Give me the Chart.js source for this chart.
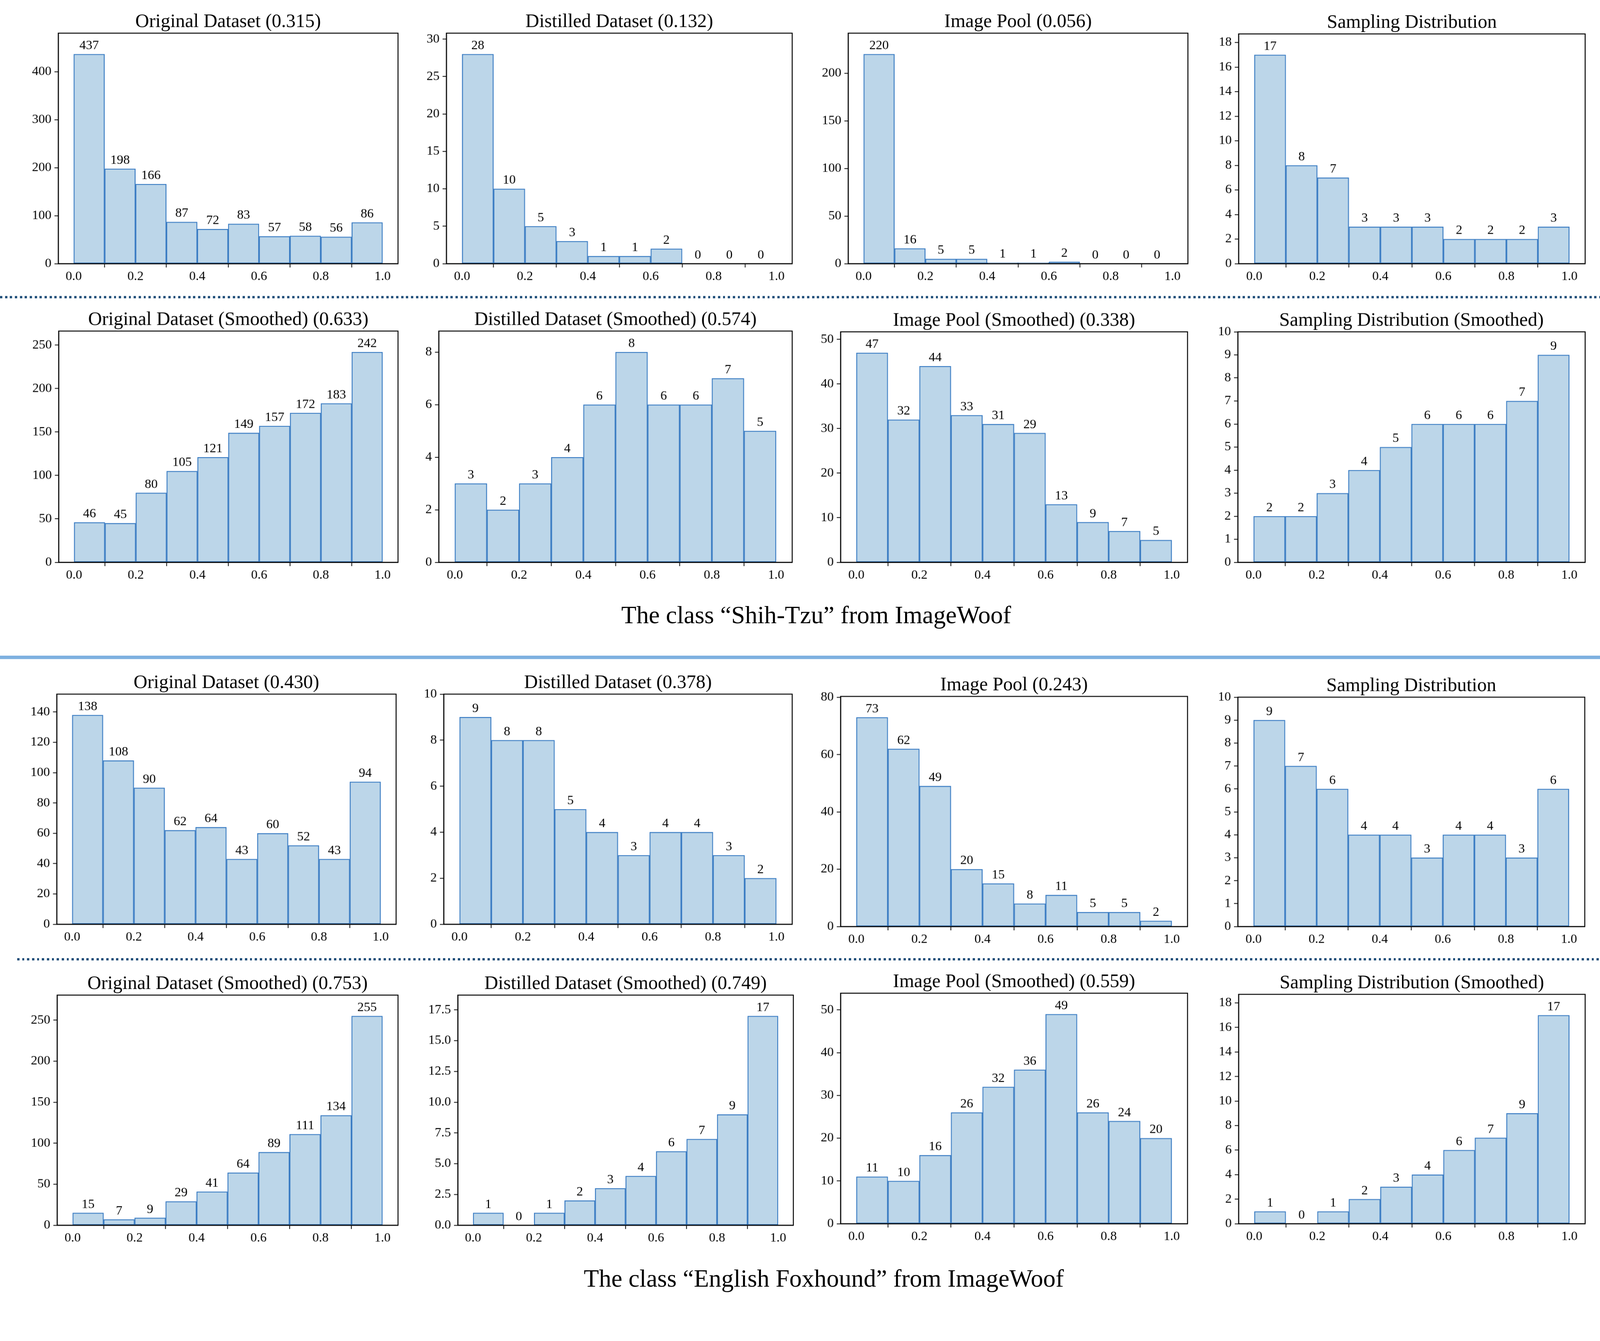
<!DOCTYPE html>
<html>
<head>
<meta charset="utf-8">
<script src="https://cdn.jsdelivr.net/npm/chart.js@4.4.1/dist/chart.umd.min.js"></script>
<style>
    html, body { margin: 0; padding: 0; background: #fff; overflow: hidden; }
    #page { position: relative; width: 4201px; height: 3432px; overflow: hidden; background: #fff;
            transform-origin: 0 0;
            font-family: 'Liberation Serif', 'Times New Roman', serif; }
    #page canvas { position: absolute; }
    .dots { position: absolute; height: 6px;
            background: repeating-linear-gradient(to right, #1f4e79 0 6px, transparent 6px 13px); }
    .rule { position: absolute; left: 0; width: 4201px; height: 9px; background: #7eb0e0; }
    .caption { position: absolute; width: 2000px; text-align: center; font-size: 65px; line-height: 1; color: #000; }
</style>
</head>
<body>
<div id="page">
    <div class="dots" style="left:0; top:777px; width:4201px;"></div>
    <div class="caption" style="left:1143px; top:1582px;">The class “Shih-Tzu” from ImageWoof</div>
    <div class="rule" style="top:1721px;"></div>
    <div class="dots" style="left:45px; top:2515px; width:4156px;"></div>
    <div class="caption" style="left:1163px; top:3323px;">The class “English Foxhound” from ImageWoof</div>
</div>

<script>
// histogram bins: 10 bins of width 0.1 on [0, 1]
const binCenters = [0.05, 0.15, 0.25, 0.35, 0.45, 0.55, 0.65, 0.75, 0.85, 0.95];
const xTickLabels = ['0.0', '0.2', '0.4', '0.6', '0.8', '1.0'];

// Shih-Tzu
const shihOriginal = [437, 198, 166, 87, 72, 83, 57, 58, 56, 86];
const shihDistilled = [28, 10, 5, 3, 1, 1, 2, 0, 0, 0];
const shihPool = [220, 16, 5, 5, 1, 1, 2, 0, 0, 0];
const shihSampling = [17, 8, 7, 3, 3, 3, 2, 2, 2, 3];
const shihOriginalSmooth = [46, 45, 80, 105, 121, 149, 157, 172, 183, 242];
const shihDistilledSmooth = [3, 2, 3, 4, 6, 8, 6, 6, 7, 5];
const shihPoolSmooth = [47, 32, 44, 33, 31, 29, 13, 9, 7, 5];
const shihSamplingSmooth = [2, 2, 3, 4, 5, 6, 6, 6, 7, 9];

// English Foxhound
const foxOriginal = [138, 108, 90, 62, 64, 43, 60, 52, 43, 94];
const foxDistilled = [9, 8, 8, 5, 4, 3, 4, 4, 3, 2];
const foxPool = [73, 62, 49, 20, 15, 8, 11, 5, 5, 2];
const foxSampling = [9, 7, 6, 4, 4, 3, 4, 4, 3, 6];
const foxOriginalSmooth = [15, 7, 9, 29, 41, 64, 89, 111, 134, 255];
const foxDistilledSmooth = [1, 0, 1, 2, 3, 4, 6, 7, 9, 17];
const foxPoolSmooth = [11, 10, 16, 26, 32, 36, 49, 26, 24, 20];
const foxSamplingSmooth = [1, 0, 1, 2, 3, 4, 6, 7, 9, 17];

// y tick labels
const ticks0to400 = ['0', '100', '200', '300', '400'];
const ticks0to30 = ['0', '5', '10', '15', '20', '25', '30'];
const ticks0to200 = ['0', '50', '100', '150', '200'];
const ticks0to250 = ['0', '50', '100', '150', '200', '250'];
const ticksEven18 = ['0', '2', '4', '6', '8', '10', '12', '14', '16', '18'];
const ticksEven8 = ['0', '2', '4', '6', '8'];
const ticksEven10 = ['0', '2', '4', '6', '8', '10'];
const ticks0to10 = ['0', '1', '2', '3', '4', '5', '6', '7', '8', '9', '10'];
const ticks0to50 = ['0', '10', '20', '30', '40', '50'];
const ticks0to140 = ['0', '20', '40', '60', '80', '100', '120', '140'];
const ticks0to80 = ['0', '20', '40', '60', '80'];
const ticksHalf175 = ['0.0', '2.5', '5.0', '7.5', '10.0', '12.5', '15.0', '17.5'];

const FILL = '#bcd6e9';
const EDGE = '#3a7cc3';
const FONT = "'Liberation Serif', 'Times New Roman', serif";

// panel boxes: plot area [left, top, right, bottom] in page pixels
const panels = [
    { title: 'Original Dataset (0.315)', counts: shihOriginal, yTicks: ticks0to400, box: [153, 87, 1045, 692] },
    { title: 'Distilled Dataset (0.132)', counts: shihDistilled, yTicks: ticks0to30, box: [1172, 87, 2080, 692] },
    { title: 'Image Pool (0.056)', counts: shihPool, yTicks: ticks0to200, box: [2227, 87, 3119, 692] },
    { title: 'Sampling Distribution', counts: shihSampling, yTicks: ticksEven18, box: [3252, 89, 4162, 692] },

    { title: 'Original Dataset (Smoothed) (0.633)', counts: shihOriginalSmooth, yTicks: ticks0to250, box: [154, 869, 1045, 1476] },
    { title: 'Distilled Dataset (Smoothed) (0.574)', counts: shihDistilledSmooth, yTicks: ticksEven8, box: [1152, 869, 2080, 1476] },
    { title: 'Image Pool (Smoothed) (0.338)', counts: shihPoolSmooth, yTicks: ticks0to50, box: [2207, 871, 3118, 1476] },
    { title: 'Sampling Distribution (Smoothed)', counts: shihSamplingSmooth, yTicks: ticks0to10, box: [3250, 871, 4162, 1476] },

    { title: 'Original Dataset (0.430)', counts: foxOriginal, yTicks: ticks0to140, box: [149, 1822, 1040, 2426] },
    { title: 'Distilled Dataset (0.378)', counts: foxDistilled, yTicks: ticksEven10, box: [1165, 1822, 2080, 2426] },
    { title: 'Image Pool (0.243)', counts: foxPool, yTicks: ticks0to80, box: [2207, 1828, 3118, 2432] },
    { title: 'Sampling Distribution', counts: foxSampling, yTicks: ticks0to10, box: [3250, 1830, 4161, 2432] },

    { title: 'Original Dataset (Smoothed) (0.753)', counts: foxOriginalSmooth, yTicks: ticks0to250, box: [150, 2612, 1045, 3216] },
    { title: 'Distilled Dataset (Smoothed) (0.749)', counts: foxDistilledSmooth, yTicks: ticksHalf175, box: [1202, 2612, 2083, 3216] },
    { title: 'Image Pool (Smoothed) (0.559)', counts: foxPoolSmooth, yTicks: ticks0to50, box: [2207, 2607, 3118, 3212] },
    { title: 'Sampling Distribution (Smoothed)', counts: foxSamplingSmooth, yTicks: ticksEven18, box: [3252, 2610, 4162, 3212] }
];

// black box around the plot area, like matplotlib spines
const framePlugin = {
    id: 'frame',
    afterDatasetsDraw(chart) {
        const { ctx, chartArea: a } = chart;
        ctx.save();
        ctx.strokeStyle = '#000';
        ctx.lineWidth = 2.5;
        ctx.strokeRect(a.left, a.top, a.right - a.left, a.bottom - a.top);
        ctx.restore();
    }
};

// count written above each bar
const countLabels = {
    id: 'countLabels',
    afterDraw(chart) {
        const { ctx } = chart;
        const meta = chart.getDatasetMeta(0);
        const values = chart.data.datasets[0].data;
        ctx.save();
        ctx.font = `34px ${FONT}`;
        ctx.fillStyle = '#000';
        ctx.textAlign = 'center';
        ctx.textBaseline = 'bottom';
        meta.data.forEach((bar, i) => {
            ctx.fillText(String(values[i].y), bar.x, bar.y - 5);
        });
        ctx.restore();
    }
};

const page = document.getElementById('page');
// fit the 4201x3432 layout into whatever CSS viewport the window gives
const fit = Math.min(window.innerWidth / 4201, window.innerHeight / 3432) || 1;
page.style.transform = `scale(${fit})`;

const YW = 130, TH = 64, XH = 64, PR = 12;

panels.forEach((p) => {
    const [l, t, r, b] = p.box;
    const w = YW + (r - l) + PR;
    const h = TH + (b - t) + XH;
    const canvas = document.createElement('canvas');
    canvas.width = w;
    canvas.height = h;
    canvas.style.left = (l - YW) + 'px';
    canvas.style.top = (t - TH) + 'px';
    canvas.style.width = w + 'px';
    canvas.style.height = h + 'px';
    page.appendChild(canvas);

    const yValues = p.yTicks.map(Number);
    const yMax = Math.max(Math.max(...p.counts) * 1.1, yValues[yValues.length - 1]);

    new Chart(canvas, {
        type: 'bar',
        data: {
            datasets: [{
                data: binCenters.map((x, i) => ({ x: x, y: p.counts[i] })),
                backgroundColor: FILL,
                borderColor: EDGE,
                borderWidth: 2.5,
                borderSkipped: false,
                barPercentage: 1,
                categoryPercentage: 1
            }]
        },
        options: {
            responsive: false,
            devicePixelRatio: 1,
            animation: false,
            layout: { padding: { left: 0, right: PR, top: 0, bottom: 0 } },
            plugins: {
                legend: { display: false },
                tooltip: { enabled: false },
                title: {
                    display: true,
                    fullSize: false,
                    text: p.title,
                    color: '#000',
                    font: { family: FONT, size: 50, weight: 'normal', lineHeight: 1 },
                    padding: { top: 10, bottom: 4 }
                }
            },
            scales: {
                x: {
                    type: 'linear',
                    min: -0.05,
                    max: 1.05,
                    offset: false,
                    afterBuildTicks: (axis) => {
                        axis.ticks = xTickLabels.map((s) => ({ value: Number(s) }));
                    },
                    afterFit: (axis) => { axis.height = XH; },
                    ticks: {
                        autoSkip: false,
                        maxRotation: 0,
                        padding: 4,
                        color: '#000',
                        font: { family: FONT, size: 34 },
                        callback: (v) => Number(v).toFixed(1)
                    },
                    grid: { display: true, drawOnChartArea: false, drawTicks: true, tickLength: 10, tickWidth: 2, color: '#000' },
                    border: { display: true, color: '#000', width: 2.5 }
                },
                y: {
                    type: 'linear',
                    min: 0,
                    max: yMax,
                    afterBuildTicks: (axis) => {
                        axis.ticks = yValues.map((v) => ({ value: v }));
                    },
                    afterFit: (axis) => { axis.width = YW; },
                    ticks: {
                        autoSkip: false,
                        padding: 8,
                        color: '#000',
                        font: { family: FONT, size: 34 },
                        callback: (v) => p.yTicks[yValues.indexOf(Number(v))]
                    },
                    grid: { display: true, drawOnChartArea: false, drawTicks: true, tickLength: 10, tickWidth: 2, color: '#000' },
                    border: { display: true, color: '#000', width: 2.5 }
                }
            }
        },
        plugins: [framePlugin, countLabels]
    });
});
</script>
</body>
</html>
